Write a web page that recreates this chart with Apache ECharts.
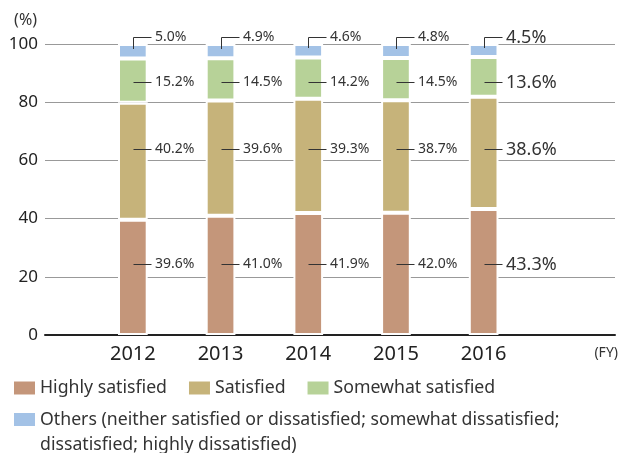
<!DOCTYPE html>
<html>
<head>
<meta charset="utf-8">
<script src="https://cdn.jsdelivr.net/npm/echarts@6/dist/echarts.min.js"></script>
<style>html,body{margin:0;padding:0;background:#fff}#c{width:630px;height:453px}</style>
</head>
<body>
<div id="c"></div>
<script>
const years = ['2012', '2013', '2014', '2015', '2016'];
const highlySatisfied = [39.6, 41.0, 41.9, 42.0, 43.3];
const satisfied = [40.2, 39.6, 39.3, 38.7, 38.6];
const somewhatSatisfied = [15.2, 14.5, 14.2, 14.5, 13.6];
const others = [5.0, 4.9, 4.6, 4.8, 4.5];
const yTicks = [0, 20, 40, 60, 80, 100];

const seriesNames = ['Highly satisfied', 'Satisfied', 'Somewhat satisfied',
  'Others (neither satisfied or dissatisfied; somewhat dissatisfied; dissatisfied; highly dissatisfied)'];
const colors = ['#C4967A', '#C6B37A', '#B7D298', '#A3C2E6'];
const FONT = '"Noto Sans", sans-serif';
const LABEL_LEVELS = [24.4, 63.9, 87.1, 102.4];

const chart = echarts.init(document.getElementById('c'));
const annoData = years.map((y, i) => [i, highlySatisfied[i], satisfied[i], somewhatSatisfied[i], others[i]]);

function renderItem(params, api) {
  const i = api.value(0);
  const big = i === years.length - 1;
  const fs = big ? 18 : 14;
  const cx = Math.round(api.coord([i, 0])[0]) + 0.5;
  const vals = [api.value(1), api.value(2), api.value(3), api.value(4)];
  const children = [];
  LABEL_LEVELS.forEach((lv, k) => {
    const y = Math.round(api.coord([i, lv])[1]) + 0.5;
    if (k < 3) {
      children.push({type: 'line', shape: {x1: cx, y1: y, x2: cx + 18, y2: y},
        style: {stroke: '#333', lineWidth: 1}});
    } else {
      const y0 = Math.round(api.coord([i, 100 - vals[3] / 3])[1]);
      children.push({type: 'polyline', shape: {points: [[cx, y0], [cx, y], [cx + 18, y]]},
        style: {stroke: '#333', fill: null, lineWidth: 1}});
    }
    children.push({type: 'text', x: cx + 21.5, y: y,
      style: {text: vals[k].toFixed(1) + '%', fontSize: fs, fontFamily: FONT, fill: '#333',
        align: 'left', verticalAlign: 'middle'}});
  });
  return {type: 'group', children};
}

const valueLists = [highlySatisfied, satisfied, somewhatSatisfied, others];

chart.setOption({
  animation: false,
  textStyle: {fontFamily: FONT},
  color: colors,
  grid: [
    {left: 45, right: 15, top: 44, bottom: 118},
    {left: 89, right: 102.5, top: 44, bottom: 118}
  ],
  legend: [
    {data: seriesNames.slice(0, 3), left: 12, top: 379, padding: 0, itemWidth: 23, itemHeight: 15,
      itemGap: 20, icon: 'rect', selectedMode: false,
      textStyle: {fontSize: 17.7, color: '#333', fontFamily: FONT, padding: [0, 0, 0, -1]}},
    {data: [seriesNames[3]], left: 12, top: 382, padding: 0, itemWidth: 23, itemHeight: 15,
      icon: 'rect', selectedMode: false,
      formatter: n => ' \n' + n.replace('; dissatisfied;', ';\ndissatisfied;'),
      textStyle: {fontSize: 17.7, color: '#333', fontFamily: FONT, lineHeight: 25, padding: [0, 0, 0, -1]}}
  ],
  xAxis: [
    {type: 'value', gridIndex: 0, min: 0, max: 1, splitLine: {show: false},
      axisLabel: {show: false}, axisTick: {show: false},
      axisLine: {show: true, lineStyle: {color: '#222', width: 2}},
      name: '(FY)', nameLocation: 'end', nameGap: 3,
      nameTextStyle: {fontSize: 14, color: '#333', align: 'right', verticalAlign: 'top', padding: [11, 0, 0, 0]}},
    {type: 'category', gridIndex: 1, data: years, axisLine: {show: false}, axisTick: {show: false},
      axisLabel: {fontSize: 20, color: '#222', margin: 9}}
  ],
  yAxis: [
    {type: 'value', gridIndex: 0, min: yTicks[0], max: yTicks[yTicks.length - 1], interval: 20,
      axisLine: {show: false}, axisTick: {show: false},
      axisLabel: {fontSize: 17, color: '#222', margin: 7},
      splitLine: {lineStyle: {color: '#999', width: 1}},
      name: '(%)', nameLocation: 'end', nameGap: 16,
      nameTextStyle: {fontSize: 16, color: '#333', align: 'right', padding: [0, 8, 0, 0]}},
    {type: 'value', gridIndex: 1, min: 0, max: 100, show: false}
  ],
  series: valueLists.map((vals, k) => ({
    name: seriesNames[k], type: 'bar', stack: 'total', xAxisIndex: 1, yAxisIndex: 1,
    barWidth: 29.7, data: vals,
    itemStyle: {color: colors[k], borderColor: '#fff', borderWidth: 2}
  })).concat([{
    type: 'custom', xAxisIndex: 1, yAxisIndex: 1, renderItem, data: annoData, z: 10, silent: true
  }])
});
</script>
</body>
</html>
